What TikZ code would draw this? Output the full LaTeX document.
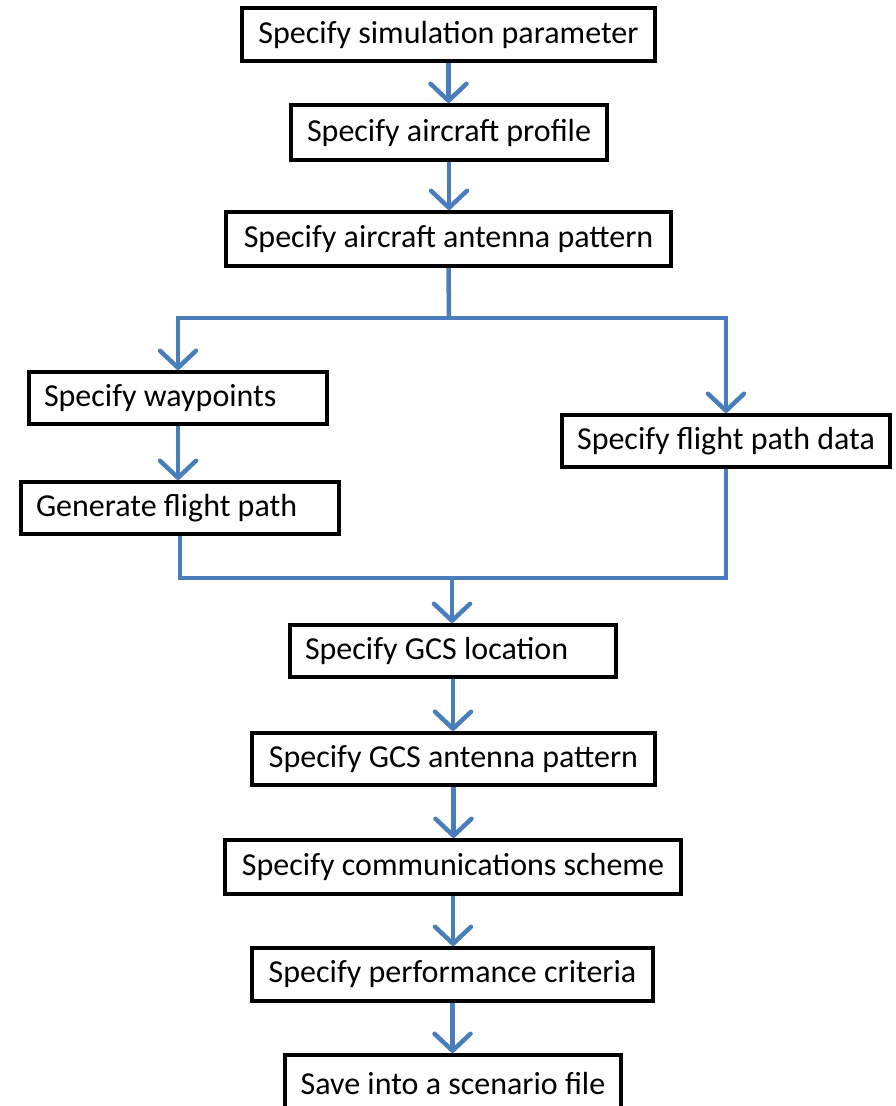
\documentclass[tikz,border=0pt]{standalone}
\usepackage{fontspec}
\setmainfont{Carlito}
\usetikzlibrary{arrows.meta}
\definecolor{flowblue}{HTML}{4A7EBB}
\tikzset{
  box/.style={draw=black, line width=4pt, fill=white, inner sep=0pt,
    font=\fontsize{32}{38}\selectfont},
  lbox/.style={box, inner xsep=15pt},
  conn/.style={draw=flowblue, line width=4.5pt},
  arr/.style={conn, -{Straight Barb[length=17pt, width=36pt, round]}}
}
\begin{document}
\begin{tikzpicture}[x=1pt, y=-1pt]
\useasboundingbox (0,0) rectangle (895,1106);
\node[box, minimum width=413pt, minimum height=53pt] (n1) at (448.5,34.5) {Specify simulation parameter};
\node[box, minimum width=316pt, minimum height=55pt] (n2) at (449,132.5) {Specify aircraft profile};
\node[box, minimum width=445pt, minimum height=54pt] (n3) at (448.5,239) {Specify aircraft antenna pattern};
\node[lbox, minimum height=52pt] (n4) at (178,398) {\makebox[268pt][l]{Specify waypoints}};
\node[box, minimum width=328pt, minimum height=52pt] (n5) at (726,441) {Specify flight path data};
\node[lbox, minimum height=52pt] (n6) at (180,508) {\makebox[288pt][l]{Generate flight path}};
\node[lbox, minimum height=52pt] (n7) at (453,651) {\makebox[296pt][l]{Specify GCS location}};
\node[box, minimum width=403pt, minimum height=52pt] (n8) at (453.5,759) {Specify GCS antenna pattern};
\node[box, minimum width=456pt, minimum height=54pt] (n9) at (453,867) {Specify communications scheme};
\node[box, minimum width=401pt, minimum height=53pt] (n10) at (452.5,974.5) {Specify performance criteria};
\node[box, minimum width=336pt, minimum height=56pt] (n11) at (453,1083) {Save into a scenario file};
\coordinate (j1) at (449,318);
\coordinate (j2) at (452,578);
\draw[arr] (n1.south) -- (n1.south |- n2.north);
\draw[arr] (n2.south) -- (n2.south |- n3.north);
\draw[conn] (n3.south) -- (j1);
\draw[arr] (j1) -| (n4.north);
\draw[arr] (j1) -| (n5.north);
\draw[arr] (n4.south) -- (n4.south |- n6.north);
\draw[conn] (n6.south) |- (j2);
\draw[conn] (n5.south) |- (j2);
\draw[arr] (j2) -- (j2 |- n7.north);
\draw[arr] (n7.south) -- (n7.south |- n8.north);
\draw[arr] (n8.south) -- (n8.south |- n9.north);
\draw[arr] (n9.south) -- (n9.south |- n10.north);
\draw[arr] (n10.south) -- (n10.south |- n11.north);
\end{tikzpicture}
\end{document}
